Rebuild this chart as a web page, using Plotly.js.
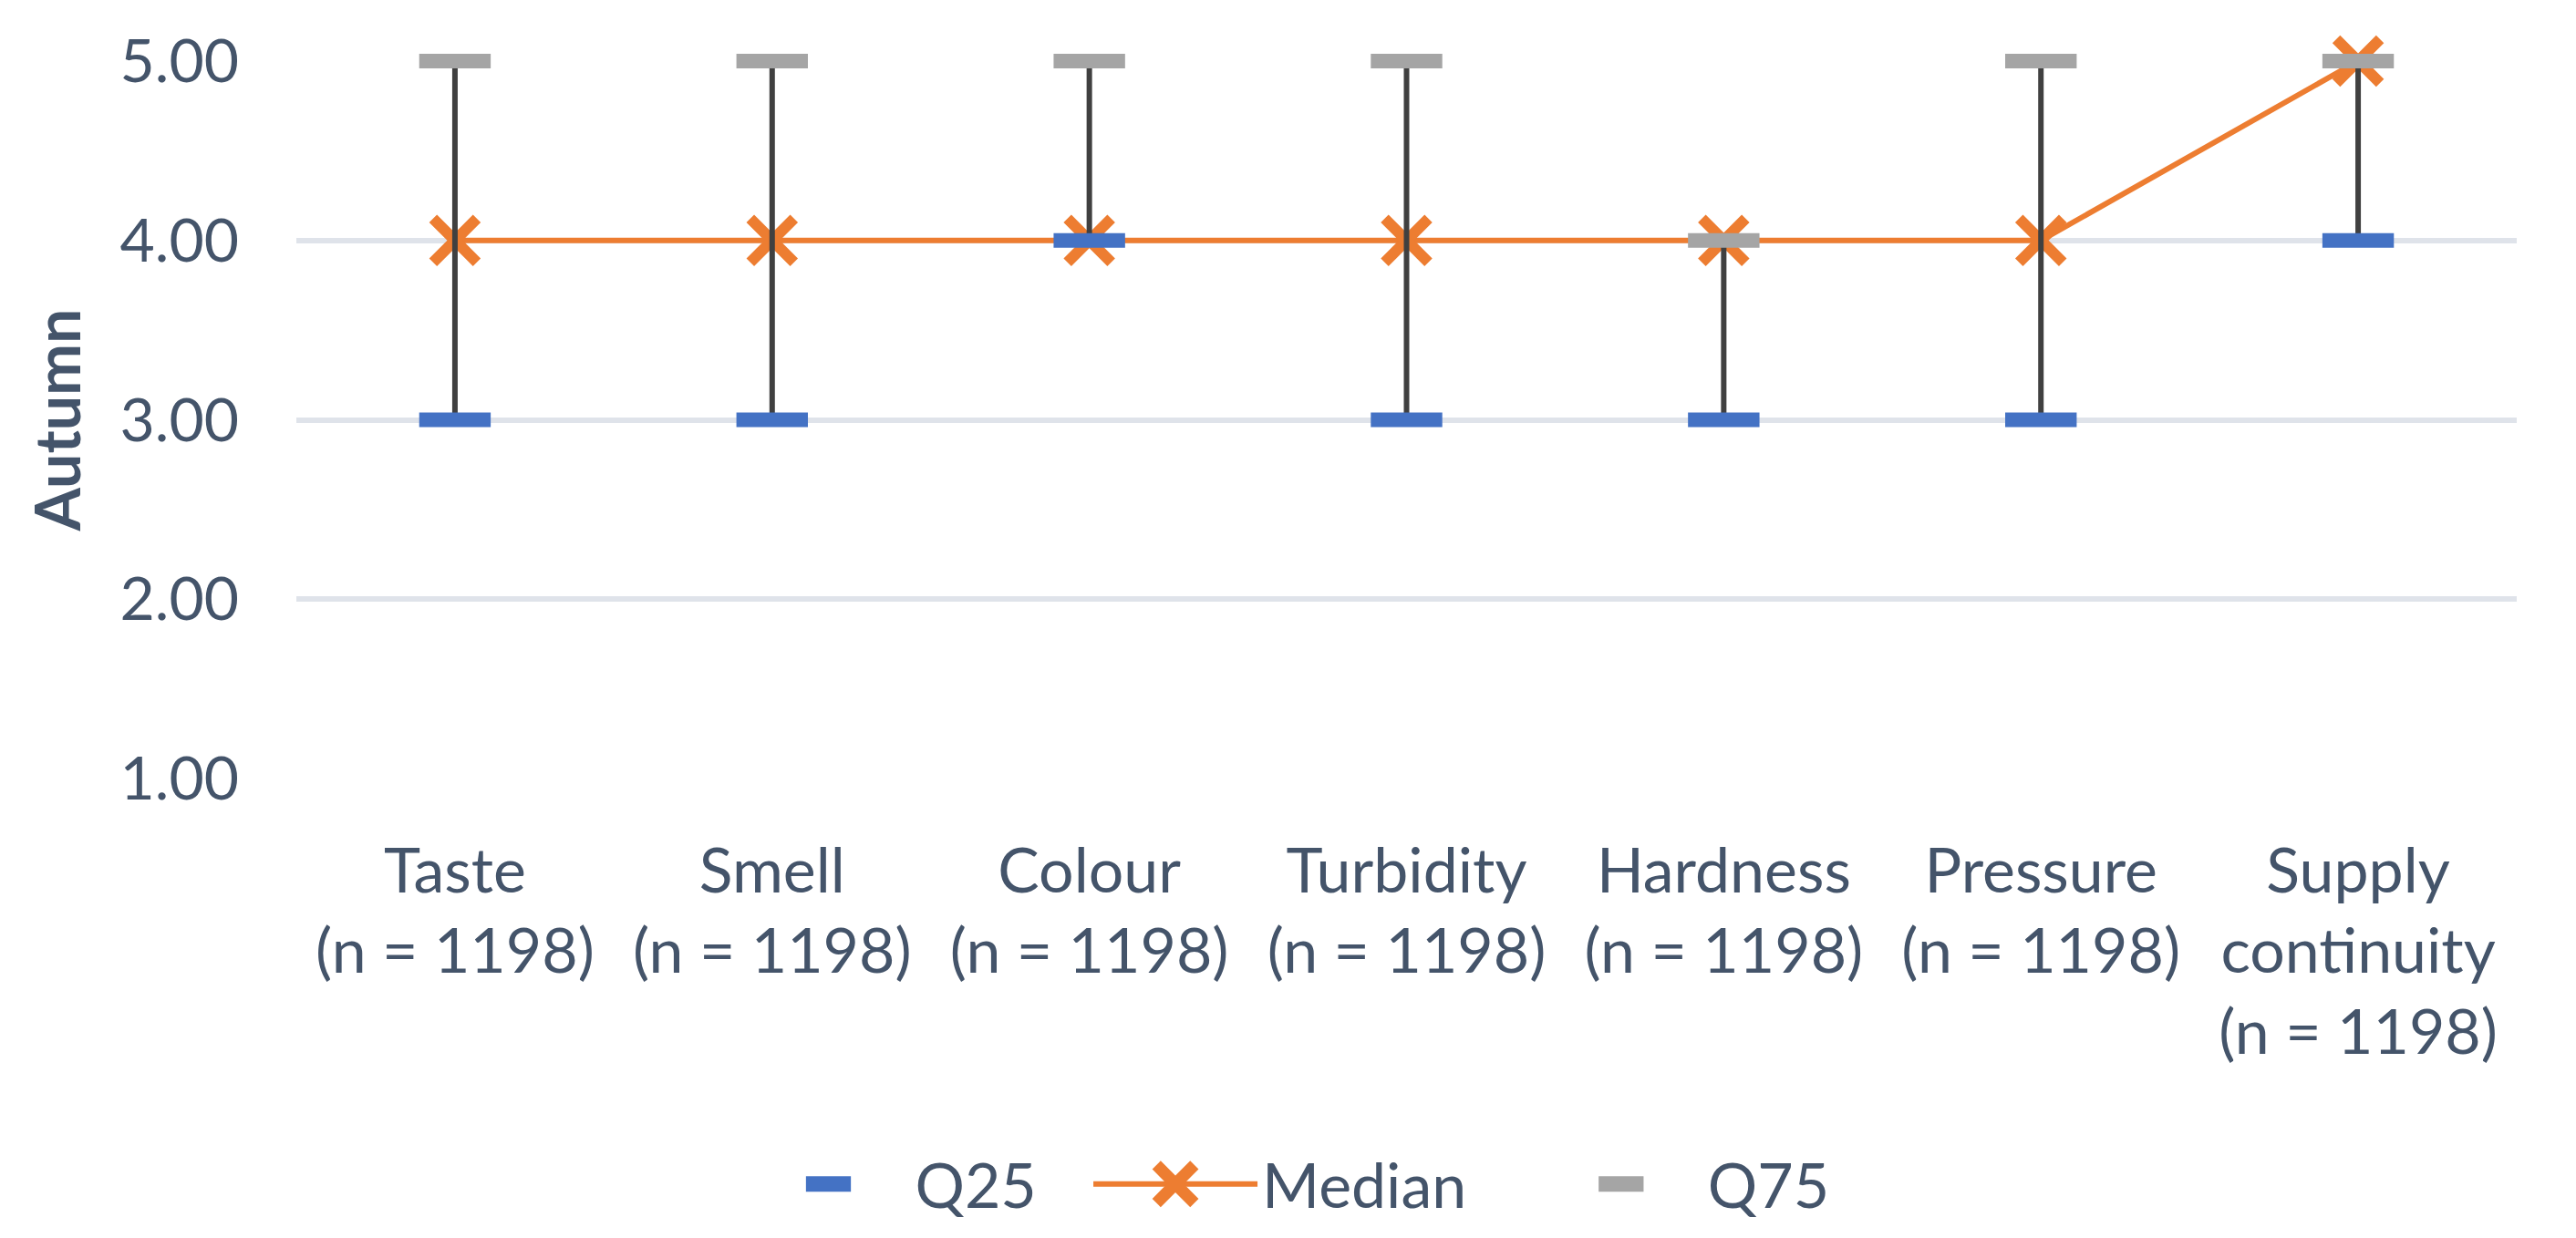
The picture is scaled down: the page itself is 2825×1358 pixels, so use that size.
<!DOCTYPE html>
<html>
<head>
<meta charset="utf-8">
<script src="https://cdn.plot.ly/plotly-3.0.1.min.js"></script>
<style>
  html, body { margin: 0; padding: 0; background: #ffffff; }
</style>
</head>
<body>
<div id="plot" style="width:2825px;height:1358px;"></div>
<script>
// Categories and sample sizes
var categories = ["Taste", "Smell", "Colour", "Turbidity", "Hardness", "Pressure", "Supply<br>continuity"];
var sampleSizes = [1198, 1198, 1198, 1198, 1198, 1198, 1198];

// Quartile values (Autumn)
var q25 = [3, 3, 4, 3, 3, 3, 4];
var median = [4, 4, 4, 4, 4, 4, 5];
var q75 = [5, 5, 5, 5, 4, 5, 5];

var textColor = "#44546A";
var labels = categories.map((c, i) => c + "<br>(n = " + sampleSizes[i] + ")");
var pad = n => "\u00A0".repeat(n);

// High-low lines between Q25 and Q75
var wx = [], wy = [];
labels.forEach((lab, i) => {
  wx.push(lab, lab, null);
  wy.push(q25[i], q75[i], null);
});

var traceMedian = {
  x: labels,
  y: median,
  name: "Median" + pad(4),
  type: "scatter",
  mode: "lines+markers",
  line: { color: "#ED7D31", width: 6 },
  marker: { symbol: "x-thin", size: 48, line: { color: "#ED7D31", width: 12 } },
  legendrank: 2,
  cliponaxis: false
};

var traceWhisker = {
  x: wx,
  y: wy,
  type: "scatter",
  mode: "lines",
  line: { color: "#404040", width: 6 },
  showlegend: false,
  hoverinfo: "skip",
  cliponaxis: false
};

var traceQ25 = {
  x: labels,
  y: q25,
  name: "Q25" + pad(3),
  type: "scatter",
  mode: "markers",
  marker: { symbol: "line-ew", size: 56, line: { color: "#4472C4", width: 16 } },
  legendrank: 1,
  cliponaxis: false
};

var traceQ75 = {
  x: labels,
  y: q75,
  name: "Q75",
  type: "scatter",
  mode: "markers",
  marker: { symbol: "line-ew", size: 56, line: { color: "#A5A5A5", width: 16 } },
  legendrank: 3,
  cliponaxis: false
};

var data = [traceMedian, traceWhisker, traceQ25, traceQ75];

var layout = {
  width: 2825,
  height: 1358,
  margin: { l: 325, r: 65, t: 67, b: 504 },
  paper_bgcolor: "#ffffff",
  plot_bgcolor: "#ffffff",
  font: { family: "Lato, sans-serif", size: 68, color: textColor },
  showlegend: true,
  legend: {
    orientation: "h",
    xref: "container",
    yref: "container",
    x: 0.5,
    xanchor: "center",
    y: 0.0434,
    yanchor: "middle",
    itemwidth: 180,
    font: { size: 68, color: textColor }
  },
  xaxis: {
    type: "category",
    categoryorder: "array",
    categoryarray: labels,
    range: [-0.5, 6.5],
    showgrid: false,
    zeroline: false,
    showline: false,
    ticks: "",
    ticklabelstandoff: 56,
    tickfont: { size: 68, color: textColor }
  },
  yaxis: {
    range: [1, 5],
    dtick: 1,
    tickformat: ".2f",
    showgrid: true,
    gridcolor: "#DFE3EA",
    gridwidth: 6,
    zeroline: false,
    showline: false,
    ticks: "",
    ticklabelstandoff: 62,
    tickfont: { size: 66, color: textColor },
    title: {
      text: "<b>Autumn</b>",
      standoff: 20,
      font: { size: 68, color: textColor }
    }
  }
};

Plotly.newPlot("plot", data, layout, { displayModeBar: false }).then(function (gd) {
  // legend symbols are capped in size by Plotly; enlarge them to match the chart marks
  gd.querySelectorAll(".legend .traces").forEach(function (item) {
    var tr = item.__data__ && item.__data__[0] && item.__data__[0].trace;
    var isDash = tr && tr.marker && tr.marker.symbol === "line-ew";
    item.querySelectorAll(".legendpoints path").forEach(function (p) {
      var t = p.getAttribute("transform") || "";
      p.setAttribute("transform", t + (isDash ? " scale(2.2,3.4)" : " scale(2.6)"));
    });
    item.querySelectorAll(".legendlines path").forEach(function (p) {
      p.style.strokeWidth = "6px";
    });
  });
});
</script>
</body>
</html>
